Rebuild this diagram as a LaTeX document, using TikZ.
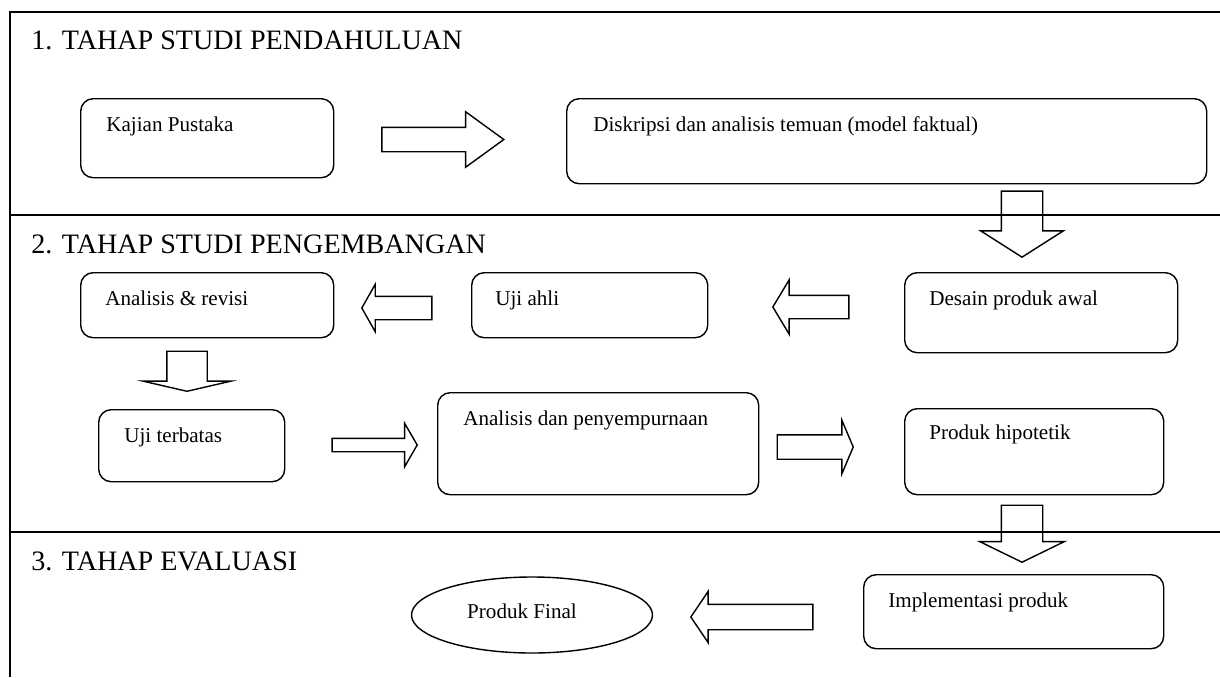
\documentclass[tikz,border=0pt]{standalone}
\usepackage{fontspec}
\setmainfont{Liberation Serif}
\usepackage{tikz}
\usetikzlibrary{shapes.geometric,shapes.arrows}

\tikzset{
kotak/.style={draw,line width=0.8pt,rounded corners=0.25cm,anchor=north west,inner sep=0pt},
teks/.style={anchor=base west,inner sep=0pt,font=\fontsize{12}{14}\selectfont},
judul/.style={anchor=base west,inner sep=0pt,font=\fontsize{16}{19}\selectfont},
panah/.style={draw,line width=0.8pt,single arrow,single arrow head indent=0pt,anchor=tip,inner xsep=0pt},
panahbawah/.style={panah,shape border rotate=270,inner ysep=0pt},
}

\begin{document}
\begin{tikzpicture}
\useasboundingbox (0,0) rectangle (24.4,-13.54) ;

% bingkai tahap
\draw[line width=1pt] (24.4,-0.24) -- (0.2,-0.24) -- (0.2,-13.54) ;
\draw[line width=1pt] (0.2,-4.3) -- (24.4,-4.3) ;
\draw[line width=1pt] (0.2,-10.64) -- (24.4,-10.64) ;

\node[judul] (tahap1) at (0.62,-1.0) {1. TAHAP STUDI PENDAHULUAN} ;
\node[judul] (tahap2) at (0.62,-5.06) {2. TAHAP STUDI PENGEMBANGAN} ;
\node[judul] (tahap3) at (0.62,-11.4) {3. TAHAP EVALUASI} ;

% kotak
\node[kotak,minimum width=5.06cm,minimum height=1.58cm] (kajian) at (1.6,-1.96) {} ;
\node[kotak,minimum width=12.8cm,minimum height=1.7cm] (diskripsi) at (11.32,-1.96) {} ;
\node[kotak,minimum width=5.46cm,minimum height=1.6cm] (desain) at (18.08,-5.44) {} ;
\node[kotak,minimum width=4.72cm,minimum height=1.3cm] (ujiahli) at (9.42,-5.44) {} ;
\node[kotak,minimum width=5.06cm,minimum height=1.3cm] (revisi) at (1.6,-5.44) {} ;
\node[kotak,minimum width=3.72cm,minimum height=1.44cm] (terbatas) at (1.96,-8.18) {} ;
\node[kotak,minimum width=6.42cm,minimum height=2.04cm] (sempurna) at (8.74,-7.84) {} ;
\node[kotak,minimum width=5.18cm,minimum height=1.72cm] (hipotetik) at (18.08,-8.16) {} ;
\node[kotak,minimum width=6cm,minimum height=1.48cm] (implementasi) at (17.26,-11.48) {} ;
\node[draw,ellipse,line width=0.8pt,minimum width=4.82cm,minimum height=1.52cm,inner sep=0pt] (final) at (10.64,-12.3) {} ;

% teks
\node[teks] (tkajian) at ([shift={(0.52,-0.66)}]kajian.north west) {Kajian Pustaka} ;
\node[teks] (tdiskripsi) at ([shift={(0.54,-0.66)}]diskripsi.north west) {Diskripsi dan analisis temuan (model faktual)} ;
\node[teks] (tdesain) at ([shift={(0.5,-0.66)}]desain.north west) {Desain produk awal} ;
\node[teks] (tujiahli) at ([shift={(0.48,-0.66)}]ujiahli.north west) {Uji ahli} ;
\node[teks] (trevisi) at ([shift={(0.5,-0.66)}]revisi.north west) {Analisis \& revisi} ;
\node[teks] (tterbatas) at ([shift={(0.52,-0.66)}]terbatas.north west) {Uji terbatas} ;
\node[teks] (tsempurna) at ([shift={(0.52,-0.66)}]sempurna.north west) {Analisis dan penyempurnaan} ;
\node[teks] (thipotetik) at ([shift={(0.5,-0.62)}]hipotetik.north west) {Produk hipotetik} ;
\node[teks] (timplementasi) at ([shift={(0.5,-0.66)}]implementasi.north west) {Implementasi produk} ;
\node[teks,anchor=base] (tfinal) at (10.44,-12.36) {Produk Final} ;

% panah blok
\node[panah,inner ysep=0.23cm,minimum height=2.44cm,minimum width=1.08cm,single arrow head extend=0.31cm,single arrow tip angle=72] (p1) at (10.1,-2.79) {} ;
\node[panahbawah,inner xsep=0.4cm,minimum height=1.32cm,minimum width=1.62cm,single arrow head extend=0.41cm,single arrow tip angle=115] (p2) at (20.44,-5.16) {} ;
\node[panah,inner ysep=0.22cm,minimum height=1.52cm,minimum width=1.06cm,single arrow head extend=0.31cm,single arrow tip angle=118,shape border rotate=180] (p3) at (15.44,-6.14) {} ;
\node[panah,inner ysep=0.22cm,minimum height=1.4cm,minimum width=0.92cm,single arrow head extend=0.24cm,single arrow tip angle=121,shape border rotate=180] (p4) at (7.22,-6.16) {} ;
\node[panahbawah,inner xsep=0.39cm,minimum height=0.8cm,minimum width=1.74cm,single arrow head extend=0.48cm,single arrow tip angle=154] (p5) at (3.74,-7.84) {} ;
\node[panah,inner ysep=0.12cm,minimum height=1.7cm,minimum width=0.84cm,single arrow head extend=0.3cm,single arrow tip angle=120] (p6) at (8.36,-8.9) {} ;
\node[panah,inner ysep=0.23cm,minimum height=1.52cm,minimum width=1.04cm,single arrow head extend=0.29cm,single arrow tip angle=134] (p7) at (17.08,-8.94) {} ;
\node[panahbawah,inner xsep=0.4cm,minimum height=1.14cm,minimum width=1.66cm,single arrow head extend=0.43cm,single arrow tip angle=128] (p8) at (20.44,-11.26) {} ;
\node[panah,inner ysep=0.24cm,minimum height=2.44cm,minimum width=1.0cm,single arrow head extend=0.26cm,single arrow tip angle=112,shape border rotate=180] (p9) at (13.8,-12.34) {} ;

\end{tikzpicture}
\end{document}
